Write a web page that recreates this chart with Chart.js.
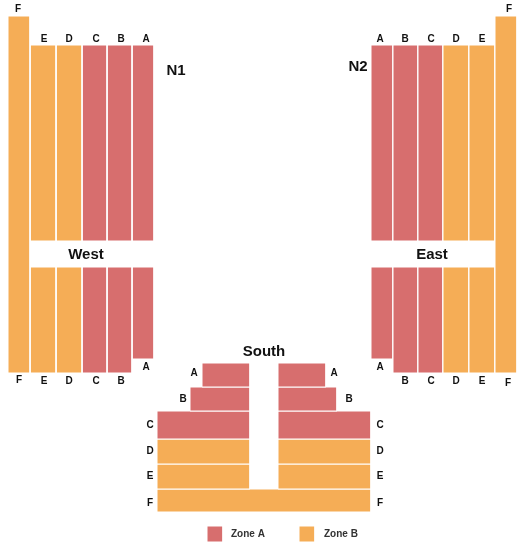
<!DOCTYPE html>
<html><head><meta charset="utf-8">
<script src="https://cdn.jsdelivr.net/npm/chart.js@4"></script>
<style>html,body{margin:0;padding:0;background:#fff}#wrap{width:525px;height:547px}</style>
</head><body><div id="wrap"><canvas id="c"></canvas></div>
<script>
// Seat sections: [x0, x1, y0, y1, zone]
const westSections = [
  [8, 30, 16, 373, 'B'],
  [30, 56, 45, 241, 'B'], [56, 82, 45, 241, 'B'],
  [82, 107, 45, 241, 'A'], [107, 132, 45, 241, 'A'], [132, 154, 45, 241, 'A'],
  [30, 56, 267, 373, 'B'], [56, 82, 267, 373, 'B'],
  [82, 107, 267, 373, 'A'], [107, 132, 267, 373, 'A'], [132, 154, 267, 359, 'A']
];
const eastSections = [
  [495, 517, 16, 373, 'B'],
  [469, 495, 45, 241, 'B'], [443, 469, 45, 241, 'B'],
  [418, 443, 45, 241, 'A'], [393, 418, 45, 241, 'A'], [371, 393, 45, 241, 'A'],
  [469, 495, 267, 373, 'B'], [443, 469, 267, 373, 'B'],
  [418, 443, 267, 373, 'A'], [393, 418, 267, 373, 'A'], [371, 393, 267, 359, 'A']
];
const southSections = [
  [202, 250, 363, 387, 'A'], [190, 250, 387, 411, 'A'], [157, 250, 411, 439, 'A'],
  [157, 250, 439, 464, 'B'], [157, 250, 464, 489, 'B'],
  [278, 326, 363, 387, 'A'], [278, 337, 387, 411, 'A'], [278, 371, 411, 439, 'A'],
  [278, 371, 439, 464, 'B'], [278, 371, 464, 489, 'B'],
  [157, 371, 489, 512, 'B']
];
const legendItems = [[207, 223, 526, 542, 'A'], [299, 315, 526, 542, 'B']];
// Labels: [text, x, y]
const rowLabels = [
  ['F', 18, 9], ['E', 44, 39], ['D', 69, 39], ['C', 96, 39], ['B', 121, 39], ['A', 146, 39],
  ['F', 19, 380], ['E', 44, 381], ['D', 69, 381], ['C', 96, 381], ['B', 121, 381], ['A', 146, 367],
  ['A', 380, 39], ['B', 405, 39], ['C', 431, 39], ['D', 456, 39], ['E', 482, 39], ['F', 509, 9],
  ['A', 380, 367], ['B', 405, 381], ['C', 431, 381], ['D', 456, 381], ['E', 482, 381], ['F', 508, 383],
  ['A', 194, 373], ['B', 183, 399], ['C', 150, 425], ['D', 150, 451], ['E', 150, 476], ['F', 150, 503],
  ['A', 334, 373], ['B', 349, 399], ['C', 380, 425], ['D', 380, 451], ['E', 380, 476], ['F', 380, 503]
];
const titleLabels = [['N1', 176, 71], ['N2', 358, 67], ['West', 86, 255], ['East', 432, 255], ['South', 264, 352]];
const legendLabels = [['Zone A', 231, 534], ['Zone B', 324, 534]];
const zoneColors = { A: '#d76e6e', B: '#f5ad56' };

const rects = westSections.concat(eastSections, southSections, legendItems);
const datasets = rects.map(([x0, x1, y0, y1, z]) => ({
  data: [{x: x0, y: y0}, {x: x1, y: y0}, {x: x1, y: y1}, {x: x0, y: y1}, {x: x0, y: y0}],
  backgroundColor: zoneColors[z],
  borderColor: '#ffffff',
  borderWidth: 1,
  showLine: true,
  fill: 'shape',
  pointRadius: 0,
  tension: 0
}));

const textPlugin = {
  id: 'texts',
  afterDraw(chart) {
    const { ctx, scales: { x, y } } = chart;
    ctx.save();
    ctx.fillStyle = '#111';
    ctx.textBaseline = 'middle';
    ctx.textAlign = 'center';
    ctx.font = 'bold 10px "Liberation Sans", Arial, sans-serif';
    rowLabels.forEach(([t, px, py]) => ctx.fillText(t, x.getPixelForValue(px), y.getPixelForValue(py)));
    ctx.font = 'bold 15px "Liberation Sans", Arial, sans-serif';
    titleLabels.forEach(([t, px, py]) => ctx.fillText(t, x.getPixelForValue(px), y.getPixelForValue(py)));
    ctx.textAlign = 'left';
    ctx.font = 'bold 10px "Liberation Sans", Arial, sans-serif';
    ctx.fillStyle = '#333';
    legendLabels.forEach(([t, px, py]) => ctx.fillText(t, x.getPixelForValue(px), y.getPixelForValue(py)));
    ctx.restore();
  }
};

new Chart(document.getElementById('c'), {
  type: 'scatter',
  data: { datasets },
  options: {
    responsive: true,
    maintainAspectRatio: false,
    animation: false,
    layout: { padding: 0 },
    plugins: { legend: { display: false }, tooltip: { enabled: false } },
    scales: {
      x: { type: 'linear', min: 0, max: 525, display: false },
      y: { type: 'linear', min: 0, max: 547, reverse: true, display: false }
    }
  },
  plugins: [textPlugin]
});
</script></body></html>
